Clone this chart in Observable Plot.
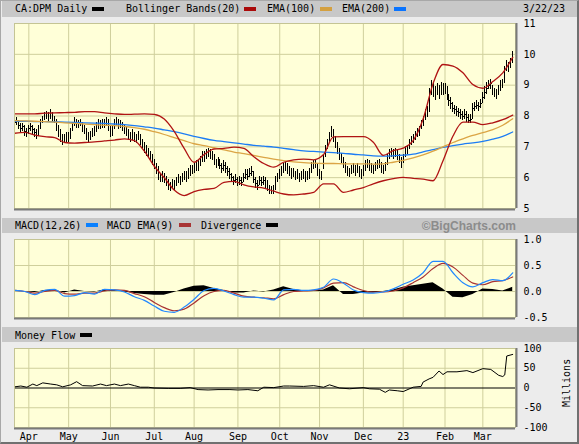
<!DOCTYPE html>
<html><head><meta charset="utf-8">
<script src="https://cdn.jsdelivr.net/npm/d3@7"></script>
<script src="https://cdn.jsdelivr.net/npm/@observablehq/plot@0.6"></script>
<style>
body{margin:0;background:#fff;}
#c{position:relative;width:579px;height:444px;background:#ececec;overflow:hidden;font-family:"DejaVu Sans Mono",monospace;}
.bar{position:absolute;left:2px;width:575px;background:#c8c8c8;}
.t{position:absolute;font-size:10px;color:#000;white-space:pre;line-height:10px;}
.sw{position:absolute;height:4px;width:12px;}
#c svg{position:absolute;left:0;overflow:visible;}
#frame{position:absolute;left:0;top:0;width:579px;height:444px;box-sizing:border-box;border:1px solid #a8a8a8;border-right:2px solid #707070;border-bottom:2px solid #707070;pointer-events:none;}
</style></head><body><div id="c"></div>
<script>
// ---- daily OHLC (trading-day index -7 .. 243, Apr 1 2022 = 0) ----
const closes = [
7.80,7.85,7.70,7.60,7.65,7.50,7.45,7.60,7.65,7.55,
7.45,7.40,7.55,7.80,7.90,8.00,8.05,7.95,8.10,7.95,
7.90,7.70,7.50,7.35,7.20,7.25,7.35,7.30,7.45,7.70,
7.80,7.75,7.75,7.80,7.60,7.55,7.40,7.25,7.35,7.45,
7.50,7.65,7.75,7.70,7.80,7.75,7.85,7.70,7.50,7.55,
7.80,7.85,7.70,7.75,7.65,7.55,7.50,7.35,7.30,7.40,
7.30,7.25,7.35,7.20,7.10,7.00,6.85,6.80,6.70,6.55,
6.40,6.30,6.10,6.00,6.05,5.95,5.90,5.75,5.70,5.80,
5.75,5.85,5.95,5.90,6.00,6.05,6.00,6.15,6.20,6.25,
6.30,6.40,6.35,6.55,6.70,6.65,6.75,6.80,6.75,6.70,
6.55,6.45,6.50,6.40,6.30,6.40,6.30,6.20,6.10,6.00,
5.90,5.95,5.85,5.90,5.85,6.00,6.10,6.05,6.15,6.20,
5.95,5.80,5.75,5.90,5.85,5.90,5.80,5.75,5.60,5.55,
5.60,5.90,6.00,6.10,6.20,6.30,6.35,6.25,6.20,6.10,
6.15,6.05,6.10,6.00,6.05,6.10,6.00,6.05,6.10,6.35,
6.40,6.45,6.20,6.10,6.00,6.60,6.90,7.10,7.30,7.50,
7.35,7.10,6.95,6.70,6.60,6.45,6.30,6.20,6.15,6.25,
6.30,6.20,6.30,6.15,6.10,6.20,6.40,6.45,6.35,6.30,
6.25,6.35,6.40,6.45,6.30,6.25,6.35,6.60,6.75,6.80,
6.75,6.80,6.70,6.60,6.45,6.60,6.85,6.90,7.10,7.20,
7.25,7.35,7.45,7.50,7.70,7.80,8.00,8.10,8.60,8.90,
8.80,8.70,8.85,8.75,8.90,8.85,8.90,8.70,8.50,8.40,
8.25,8.20,8.15,8.10,8.05,8.00,8.05,7.95,7.85,7.90,
8.25,8.30,8.35,8.30,8.40,8.60,8.75,8.90,9.00,9.05,
8.80,8.75,8.70,8.85,9.00,9.05,9.50,9.65,9.55,9.70,9.95];
const highs = [
7.95,7.95,7.85,7.75,7.75,7.70,7.60,7.70,7.75,7.70,
7.60,7.55,7.70,7.90,8.00,8.10,8.15,8.10,8.20,8.10,
8.00,7.90,7.70,7.55,7.40,7.40,7.45,7.45,7.60,7.80,
7.95,7.90,7.85,7.90,7.80,7.70,7.60,7.45,7.50,7.60,
7.65,7.80,7.90,7.85,7.90,7.90,7.95,7.90,7.70,7.70,
7.90,7.95,7.90,7.85,7.80,7.70,7.65,7.55,7.45,7.55,
7.45,7.40,7.50,7.40,7.25,7.15,7.05,6.95,6.85,6.75,
6.60,6.45,6.35,6.15,6.20,6.15,6.05,5.95,5.85,5.95,
5.90,6.00,6.10,6.05,6.15,6.20,6.20,6.30,6.40,6.40,
6.45,6.55,6.55,6.70,6.85,6.85,6.90,6.95,6.90,6.85,
6.75,6.60,6.65,6.60,6.45,6.55,6.50,6.35,6.30,6.15,
6.05,6.10,6.00,6.05,6.00,6.15,6.25,6.25,6.30,6.35,
6.20,6.00,5.90,6.05,6.00,6.05,6.00,5.90,5.75,5.70,
5.75,6.05,6.15,6.25,6.35,6.45,6.50,6.45,6.35,6.30,
6.30,6.20,6.25,6.15,6.20,6.25,6.20,6.20,6.30,6.50,
6.55,6.60,6.45,6.25,6.20,6.75,7.05,7.25,7.45,7.65,
7.55,7.35,7.15,6.95,6.80,6.65,6.50,6.35,6.30,6.40,
6.45,6.40,6.45,6.35,6.25,6.40,6.55,6.60,6.55,6.45,
6.40,6.50,6.55,6.60,6.50,6.40,6.50,6.75,6.90,6.95,
6.90,6.95,6.90,6.75,6.65,6.75,7.00,7.05,7.25,7.35,
7.40,7.50,7.60,7.65,7.85,8.00,8.20,8.30,8.90,9.15,
9.05,8.95,9.05,9.00,9.10,9.05,9.05,8.95,8.70,8.60,
8.45,8.35,8.30,8.25,8.20,8.15,8.20,8.15,8.05,8.05,
8.40,8.45,8.50,8.45,8.55,8.75,8.95,9.10,9.15,9.20,
9.00,8.90,8.85,9.00,9.15,9.20,9.60,9.80,9.75,9.85,10.10];
const lows = [
7.65,7.70,7.55,7.45,7.50,7.35,7.30,7.40,7.50,7.40,
7.30,7.25,7.35,7.55,7.75,7.85,7.90,7.80,7.90,7.80,
7.75,7.50,7.30,7.15,7.05,7.10,7.15,7.15,7.25,7.50,
7.65,7.60,7.60,7.65,7.45,7.40,7.20,7.10,7.20,7.30,
7.35,7.45,7.55,7.55,7.60,7.60,7.65,7.50,7.30,7.35,
7.55,7.70,7.55,7.60,7.50,7.40,7.35,7.20,7.15,7.20,
7.15,7.10,7.20,7.05,6.95,6.80,6.70,6.65,6.55,6.40,
6.25,6.10,5.90,5.85,5.85,5.80,5.70,5.60,5.55,5.65,
5.60,5.70,5.80,5.75,5.85,5.90,5.85,5.95,6.05,6.10,
6.15,6.20,6.20,6.35,6.50,6.50,6.60,6.65,6.60,6.55,
6.40,6.30,6.35,6.25,6.15,6.20,6.15,6.05,5.95,5.85,
5.75,5.80,5.70,5.75,5.70,5.85,5.95,5.90,6.00,6.05,
5.80,5.65,5.60,5.75,5.70,5.75,5.65,5.55,5.45,5.45,
5.45,5.60,5.85,5.95,6.05,6.15,6.20,6.10,6.05,5.95,
6.00,5.90,5.95,5.85,5.90,5.95,5.85,5.90,5.95,6.15,
6.25,6.30,6.05,5.95,5.90,6.25,6.65,6.90,7.10,7.30,
7.15,6.95,6.75,6.55,6.45,6.30,6.15,6.05,6.00,6.10,
6.15,6.05,6.15,6.00,5.95,6.05,6.20,6.30,6.20,6.15,
6.10,6.20,6.25,6.30,6.15,6.10,6.20,6.40,6.60,6.65,
6.60,6.65,6.55,6.45,6.30,6.45,6.65,6.75,6.90,7.05,
7.10,7.20,7.30,7.35,7.55,7.65,7.85,7.95,8.10,8.65,
8.60,8.50,8.65,8.55,8.65,8.65,8.70,8.50,8.30,8.20,
8.10,8.05,8.00,7.95,7.90,7.85,7.90,7.80,7.75,7.75,
7.90,8.15,8.20,8.15,8.25,8.40,8.55,8.70,8.85,8.85,
8.65,8.60,8.55,8.65,8.80,8.90,9.05,9.45,9.40,9.55,9.70];
const dayIdx = d3.range(-7, 244);

// ---- indicator lines, read every 5 trading days ----
const sampleIdx = d3.range(-7, 244, 5);
const bbUpper = [8.07,8.07,8.07,8.09,8.10,8.11,8.12,8.14,8.14,8.10,
8.07,8.05,8.06,8.07,8.05,7.90,7.50,6.95,6.50,6.75,
6.93,6.95,6.99,6.95,6.68,6.46,6.34,6.50,6.58,6.60,
6.58,6.75,7.32,7.33,7.33,7.33,7.15,6.72,6.88,6.96,
7.20,7.90,9.05,9.67,9.62,9.40,9.02,8.90,9.12,9.40,9.90];
const bbLower = [7.44,7.47,7.38,7.33,7.30,7.14,7.12,7.14,7.16,7.19,
7.22,7.26,7.20,6.86,6.37,6.00,5.60,5.42,5.55,5.62,
5.65,5.85,5.88,5.77,5.70,5.66,5.56,5.47,5.44,5.47,
5.52,5.80,5.80,5.52,5.60,5.68,5.80,5.90,5.97,6.01,
5.98,5.95,5.90,6.55,7.35,7.80,7.80,7.72,7.78,7.88,8.03];
const ema100 = [7.85,7.84,7.83,7.82,7.80,7.78,7.76,7.74,7.72,7.70,
7.69,7.66,7.62,7.57,7.49,7.40,7.30,7.20,7.10,7.04,
6.97,6.90,6.83,6.78,6.72,6.66,6.60,6.55,6.51,6.49,
6.47,6.46,6.46,6.45,6.45,6.45,6.44,6.45,6.50,6.56,
6.64,6.74,6.86,7.00,7.14,7.26,7.37,7.46,7.56,7.70,7.91];
const ema200 = [7.83,7.83,7.82,7.82,7.81,7.80,7.79,7.78,7.77,7.76,
7.74,7.72,7.69,7.65,7.61,7.55,7.49,7.42,7.34,7.27,
7.21,7.17,7.13,7.09,7.05,7.02,6.99,6.95,6.91,6.87,
6.85,6.83,6.81,6.79,6.76,6.74,6.71,6.70,6.71,6.73,
6.76,6.84,6.91,6.98,7.04,7.09,7.13,7.18,7.25,7.34,7.48];
const macd = [0.02,0.00,-0.06,0.02,0.04,-0.09,-0.08,-0.02,-0.05,0.04,
0.03,-0.01,-0.10,-0.17,-0.28,-0.38,-0.40,-0.30,-0.15,0.02,
0.06,0.01,-0.06,-0.11,-0.11,-0.13,-0.16,0.03,0.04,0.02,
0.03,0.08,0.24,0.16,0.03,-0.02,-0.03,-0.01,0.05,0.14,
0.22,0.36,0.58,0.58,0.36,0.17,0.09,0.17,0.23,0.21,0.36];
const macdSignal = [0.02,0.00,-0.03,0.00,0.02,-0.04,-0.05,-0.03,-0.03,0.01,
0.03,0.02,-0.04,-0.10,-0.21,-0.31,-0.37,-0.34,-0.22,-0.08,
0.00,0.02,-0.03,-0.09,-0.11,-0.12,-0.14,-0.06,0.00,0.01,
0.02,0.07,0.16,0.17,0.09,0.02,-0.01,-0.01,0.01,0.07,
0.17,0.28,0.44,0.54,0.47,0.31,0.16,0.13,0.19,0.21,0.28];
const divergence = [0.00,0.00,-0.02,0.02,0.03,-0.03,0.03,0.00,-0.01,0.03,
0.02,-0.01,-0.04,-0.06,-0.07,-0.07,-0.02,0.05,0.10,0.11,
0.06,0.02,-0.03,-0.03,0.01,-0.01,0.03,0.09,0.04,0.01,
0.01,0.03,0.11,-0.06,-0.06,-0.03,-0.03,0.00,0.03,0.08,
0.11,0.14,0.17,0.05,-0.11,-0.12,-0.06,0.05,0.04,0.01,0.08];

// ---- money flow (millions) ----
const mfIdx = [-7,-4,-1,2,4,7,11,14,17,21,24,27,32,36,39,43,46,50,53,56,
60,63,70,76,81,85,90,95,101,105,110,115,118,123,128,131,138,143,148,151,
156,161,168,171,176,179,181,185,188,193,197,198,201,203,206,208,210,215,220,223,
228,232,236,238,239,240,243];
const moneyFlow = [3,5,2,10,6,13,10,8,3,8,16,6,5,10,6,10,6,10,6,2,
2,0,-1,-1,1,-4,-5,-4,-4,-5,-4,-7,2,1,5,5,4,6,2,8,
0,-2,1,-2,-3,-11,-5,-7,-9,2,4,15,23,27,43,34,41,41,44,39,
49,47,32,29,33,81,85];

// ---- axes ----
const monthIdx = [0,20,41,63,83,105,126,146,168,188,209,228];
const monthLabels = ["Apr","May","Jun","Jul","Aug","Sep","Oct","Nov","Dec","23","Feb","Mar"];
const priceTicks = [5,6,7,8,9,10,11];
const macdTicks = [-0.5,0,0.5,1];
const mfTicks = [-100,-50,0,50,100];

// ---- build tables ----
const bars = dayIdx.map((i,k)=>({i, close:closes[k], high:highs[k], low:lows[k]}));
const lines = sampleIdx.map((i,k)=>({i, up:bbUpper[k], lo:bbLower[k], e100:ema100[k], e200:ema200[k], m:macd[k], s:macdSignal[k], d:divergence[k]}));
const mf = mfIdx.map((i,k)=>({i, v:moneyFlow[k]}));

const xDomain = [-7.2, 244.4];
const BG = "#ffffd8", GRID = "#cfcf9c", EDGE = "#c4c494", SHADOW = "#7a7a7a";
const RED = "#b01414", ORANGE = "#dba545", BLUE = "#1c7cf4";
const baseStyle = {background:"transparent", fontFamily:"'DejaVu Sans Mono', monospace", fontSize:"10px", color:"#000", overflow:"visible"};
const c = document.getElementById("c");

function addDiv(cls, css, text){
  const d = document.createElement("div"); d.className = cls;
  Object.assign(d.style, css); if (text) d.textContent = text; c.appendChild(d); return d;
}
// header bars
addDiv("bar",{top:"0px",height:"17px"});
addDiv("bar",{top:"218px",height:"15px"});
addDiv("bar",{top:"327px",height:"15px"});

function frameMarks(ymin){
  return [
    Plot.frame({stroke: EDGE}),
    Plot.ruleY([ymin], {stroke: SHADOW, strokeWidth: 2, dy: 1}),
    Plot.ruleX([xDomain[1]], {stroke: SHADOW, strokeWidth: 2, dx: 1})
  ];
}

const price = Plot.plot({
  width: 579, height: 214, marginLeft: 14, marginRight: 64, marginTop: 23, marginBottom: 6,
  style: baseStyle,
  x: {domain: xDomain, axis: null},
  y: {domain: [5, 11], ticks: priceTicks, axis: "right", tickSize: 0, tickPadding: 8, label: null, tickFormat: d => String(d)},
  marks: [
    Plot.frame({fill: BG}),
    Plot.ruleX(monthIdx, {stroke: GRID}),
    Plot.ruleY([6,7,8,9,10], {stroke: GRID}),
    Plot.ruleX(bars, {x: "i", y1: "low", y2: "high", stroke: "#000", strokeWidth: 1, shapeRendering: "crispEdges"}),
    Plot.ruleY(bars, {y: "close", x1: "i", x2: d => d.i + 0.6, stroke: "#000", strokeWidth: 1, shapeRendering: "crispEdges"}),
    Plot.line(lines, {x: "i", y: "e200", stroke: BLUE, strokeWidth: 1.3, curve: "monotone-x"}),
    Plot.line(lines, {x: "i", y: "e100", stroke: ORANGE, strokeWidth: 1.3, curve: "monotone-x"}),
    Plot.line(lines, {x: "i", y: "up", stroke: RED, strokeWidth: 1.3, curve: "monotone-x"}),
    Plot.line(lines, {x: "i", y: "lo", stroke: RED, strokeWidth: 1.3, curve: "monotone-x"}),
    ...frameMarks(5)
  ]
});
price.style.top = "0px"; c.appendChild(price);

const macdPlot = Plot.plot({
  width: 579, height: 109, marginLeft: 14, marginRight: 64, marginTop: 25, marginBottom: 6,
  style: baseStyle,
  x: {domain: xDomain, axis: null},
  y: {domain: [-0.5, 1.0], ticks: macdTicks, axis: "right", tickSize: 0, tickPadding: 8, label: null, tickFormat: d => d.toFixed(1)},
  marks: [
    Plot.frame({fill: BG}),
    Plot.ruleX(monthIdx, {stroke: GRID}),
    Plot.ruleY([0, 0.5], {stroke: GRID}),
    Plot.areaY(lines, {x: "i", y: "d", fill: "#000"}),
    Plot.line(lines, {x: "i", y: "s", stroke: "#a83434", strokeWidth: 1.2, curve: "monotone-x"}),
    Plot.line(lines, {x: "i", y: "m", stroke: "#2288ff", strokeWidth: 1.2, curve: "monotone-x"}),
    ...frameMarks(-0.5)
  ]
});
macdPlot.style.top = "214px"; c.appendChild(macdPlot);

const mfPlot = Plot.plot({
  width: 579, height: 121, marginLeft: 14, marginRight: 64, marginTop: 25, marginBottom: 17,
  style: baseStyle,
  x: {domain: xDomain, ticks: monthIdx, tickFormat: d => monthLabels[monthIdx.indexOf(d)], tickSize: 0, tickPadding: 5, label: null},
  y: {domain: [-100, 100], ticks: mfTicks, axis: "right", tickSize: 0, tickPadding: 8, label: null, tickFormat: d => String(d)},
  marks: [
    Plot.frame({fill: BG}),
    Plot.ruleX(monthIdx, {stroke: GRID}),
    Plot.ruleY([-50, 50], {stroke: GRID}),
    Plot.ruleY([0], {stroke: "#000", strokeWidth: 1.2}),
    Plot.line(mf, {x: "i", y: "v", stroke: "#000", strokeWidth: 1}),
    ...frameMarks(-100)
  ]
});
mfPlot.style.top = "323px"; c.appendChild(mfPlot);

// header texts & swatches
addDiv("t",{left:"15px",top:"4px"},"CA:DPM Daily");
addDiv("sw",{left:"92px",top:"7px",background:"#000"});
addDiv("t",{left:"126px",top:"4px"},"Bollinger Bands(20)");
addDiv("sw",{left:"244px",top:"7px",background:"#aa0a0a"});
addDiv("t",{left:"267px",top:"4px"},"EMA(100)");
addDiv("sw",{left:"320px",top:"7px",background:"#d4a040"});
addDiv("t",{left:"342px",top:"4px"},"EMA(200)");
addDiv("sw",{left:"394px",top:"7px",background:"#0a74ff"});
addDiv("t",{left:"523px",top:"4px"},"3/22/23");

addDiv("t",{left:"15px",top:"221px"},"MACD(12,26)");
addDiv("sw",{left:"86px",top:"223px",background:"#0a80ff"});
addDiv("t",{left:"107px",top:"221px"},"MACD EMA(9)");
addDiv("sw",{left:"179px",top:"223px",background:"#a83434"});
addDiv("t",{left:"201px",top:"221px"},"Divergence");
addDiv("sw",{left:"266px",top:"223px",background:"#000"});
addDiv("t",{right:"63px",top:"219.5px",fontFamily:"'Liberation Sans', Arial, sans-serif",fontWeight:"bold",fontSize:"12px",lineHeight:"12px",color:"#8c8c8c"},"©BigCharts.com");

addDiv("t",{left:"15px",top:"331px"},"Money Flow");
addDiv("sw",{left:"80px",top:"333px",background:"#000"});

addDiv("t",{left:"543px",top:"378px",width:"48px",textAlign:"center",transform:"rotate(-90deg)",transformOrigin:"24px 5px"},"Millions");

const fr = document.createElement("div"); fr.id = "frame"; c.appendChild(fr);
</script></body></html>
